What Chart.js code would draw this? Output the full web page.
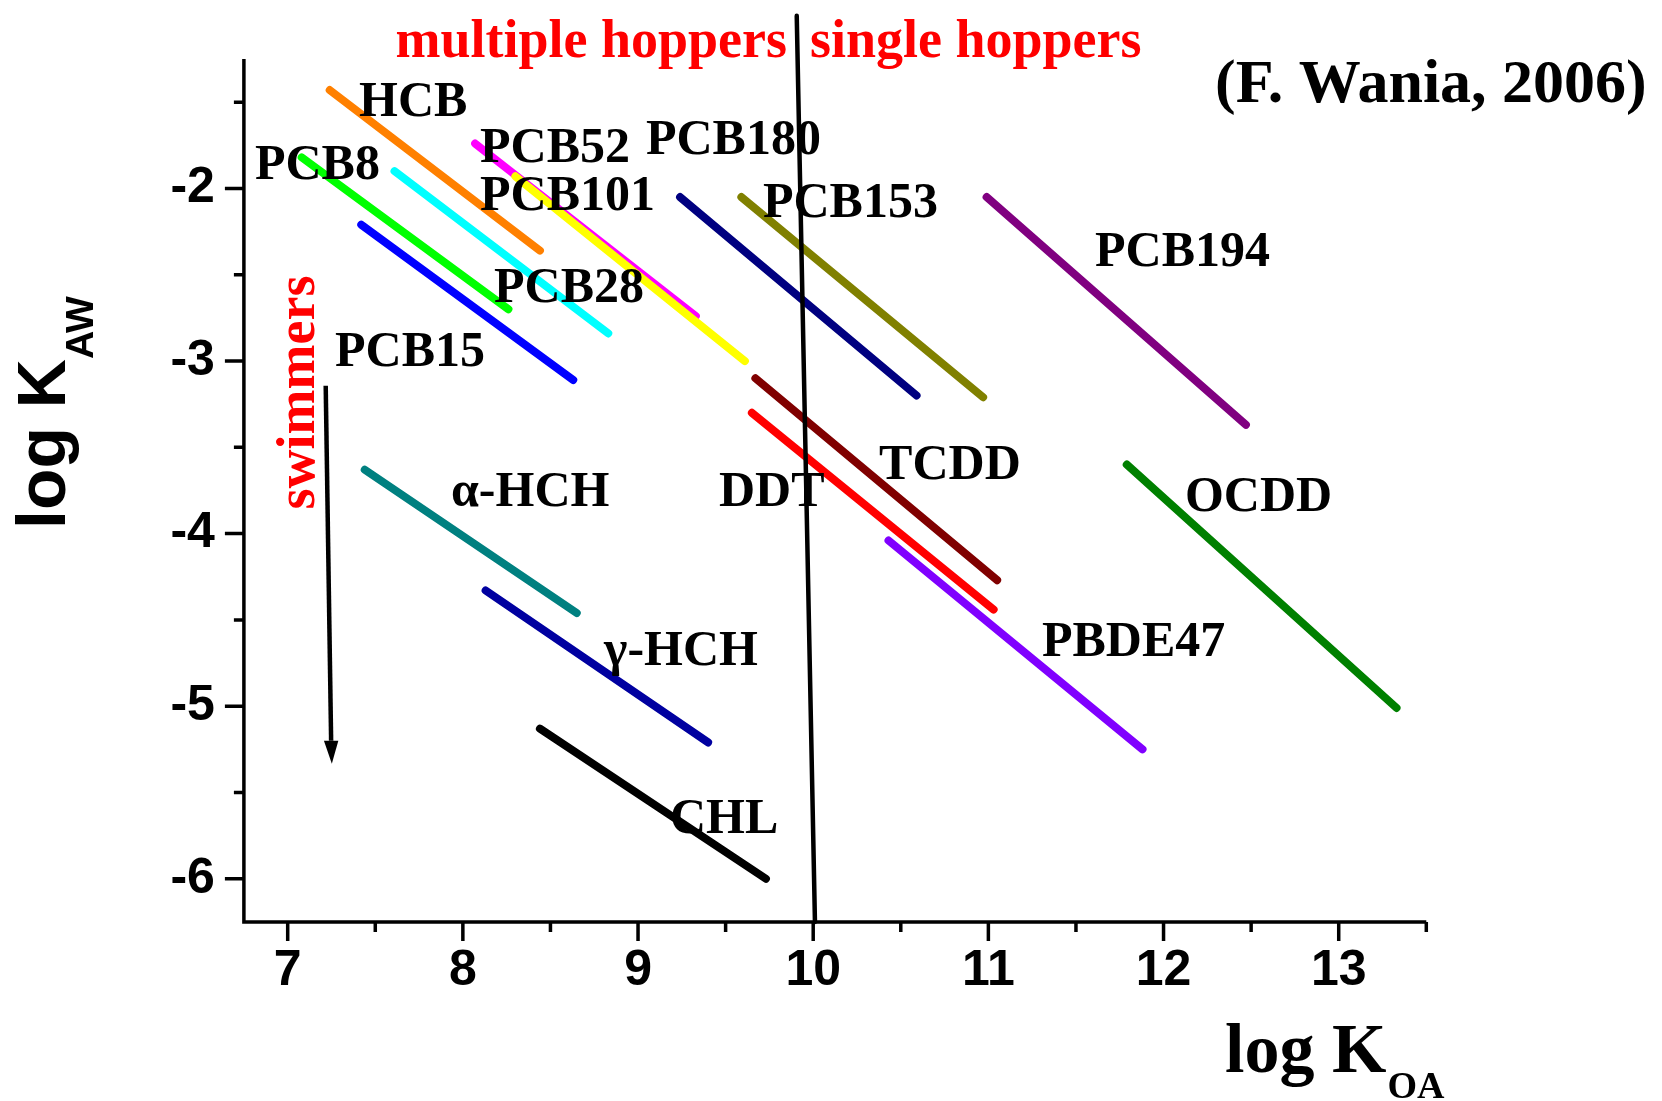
<!DOCTYPE html>
<html>
<head>
<meta charset="utf-8">
<script src="https://cdn.jsdelivr.net/npm/chart.js@4.4.1/dist/chart.umd.min.js"></script>
<style>
  html, body { margin: 0; padding: 0; background: #ffffff; }
  #wrap { width: 1662px; height: 1101px; }
  canvas { display: block; }
</style>
</head>
<body>
<div id="wrap"><canvas id="c" width="1662" height="1101"></canvas></div>
<script>
// ---- Data ----
const compounds = ['HCB','PCB8','PCB15','PCB28','PCB52','PCB101','PCB180','PCB153','PCB194',
                   'TCDD','DDT','PBDE47','OCDD','α-HCH','γ-HCH','CHL'];
const koaStart = [7.24, 7.08, 7.42, 7.61, 8.07, 8.30, 9.24, 9.59, 10.99, 9.67, 9.65, 10.43, 11.79, 7.44, 8.13, 8.44];
const kawStart = [-1.43, -1.82, -2.21, -1.90, -1.74, -1.93, -2.05, -2.05, -2.05, -3.10, -3.30, -4.04, -3.60, -3.63, -4.33, -5.13];
const koaEnd   = [8.44, 8.26, 8.63, 8.83, 9.33, 9.61, 10.59, 10.97, 12.47, 11.05, 11.03, 11.88, 13.33, 8.65, 9.40, 9.73];
const kawEnd   = [-2.36, -2.70, -3.11, -2.84, -2.74, -3.00, -3.20, -3.21, -3.37, -4.27, -4.44, -5.25, -5.01, -4.46, -5.21, -6.00];
const lineColors = ['#ff8000','#00ff00','#0000ff','#00ffff','#ff00ff','#ffff00','#000080','#808000','#800080',
                    '#800000','#ff0000','#8000ff','#008000','#008080','#0000a0','#000000'];

// hopper divider line and swimmers arrow
const dividerKoa = [9.906, 10.01];
const dividerKaw = [-1.00, -6.25];
const arrowKoa = [7.217, 7.248, 7.252];   // start, head base, tip
const arrowKaw = [-3.143, -5.20, -5.333];

// text labels placed in data coordinates
const labelText = ['HCB','PCB8','PCB52','PCB180','PCB101','PCB153','PCB194','PCB28','PCB15',
                   'α-HCH','DDT','TCDD','OCDD','PBDE47','γ-HCH','CHL'];
const labelKoa = [7.407, 6.813, 8.098, 9.045, 8.098, 9.713, 11.609, 8.178, 7.270,
                  7.932, 9.462, 10.376, 12.122, 11.306, 8.806, 9.182];
const labelKaw = [-1.583, -1.946, -1.848, -1.802, -2.125, -2.168, -2.448, -2.656, -3.031,
                  -3.842, -3.842, -3.683, -3.871, -4.710, -4.762, -5.737];

// axes
const xMin = 6.75, xMax = 13.5, yMin = -6.25, yMax = -1.25;
const xTickValues = [7, 8, 9, 10, 11, 12, 13];
const xTickLabels = ['7', '8', '9', '10', '11', '12', '13'];
const yTickValues = [-6, -5, -4, -3, -2];
const yTickLabels = ['-6', '-5', '-4', '-3', '-2'];
const minorStep = 0.5;

// ---- Build datasets ----
const datasets = compounds.map((name, i) => ({
  label: name,
  data: [{x: koaStart[i], y: kawStart[i]}, {x: koaEnd[i], y: kawEnd[i]}],
  showLine: true,
  borderColor: lineColors[i],
  backgroundColor: lineColors[i],
  borderWidth: 8,
  borderCapStyle: 'round',
  pointRadius: 0,
  pointHoverRadius: 0,
  fill: false,
  tension: 0,
  order: -i
}));
datasets.push({
  label: 'divider',
  data: [{x: dividerKoa[0], y: dividerKaw[0]}, {x: dividerKoa[1], y: dividerKaw[1]}],
  showLine: true, borderColor: '#000', borderWidth: 4.5, borderCapStyle: 'round',
  pointRadius: 0, fill: false, tension: 0, clip: false, order: -100
});
datasets.push({
  label: 'swimmers',
  data: [{x: arrowKoa[0], y: arrowKaw[0]}, {x: arrowKoa[1], y: arrowKaw[1]}],
  showLine: true, borderColor: '#000', borderWidth: 4.5, borderCapStyle: 'butt',
  pointRadius: 0, fill: false, tension: 0, order: -101
});

const SERIF = '"Liberation Serif", "Times New Roman", serif';
const SANS = '"Liberation Sans", Arial, sans-serif';

const decor = {
  id: 'decor',
  afterDatasetsDraw(chart) {
    const ctx = chart.ctx;
    const xs = chart.scales.x, ys = chart.scales.y;
    const a = chart.chartArea;
    ctx.save();
    // axis lines
    ctx.strokeStyle = '#000';
    ctx.lineWidth = 3.5;
    ctx.lineCap = 'butt';
    ctx.beginPath();
    ctx.moveTo(a.left, a.top);
    ctx.lineTo(a.left, a.bottom + 1.75);
    ctx.moveTo(a.left - 1.75, a.bottom);
    ctx.lineTo(a.right, a.bottom);
    ctx.stroke();
    // tick marks (major 19px, minor 10px, outward)
    ctx.beginPath();
    for (let v = Math.ceil(xMin / minorStep) * minorStep; v <= xMax + 1e-9; v += minorStep) {
      const px = xs.getPixelForValue(v);
      const len = xTickValues.includes(Math.round(v * 100) / 100) ? 19 : 10;
      ctx.moveTo(px, a.bottom);
      ctx.lineTo(px, a.bottom + len);
    }
    for (let v = Math.ceil(yMin / minorStep) * minorStep; v <= yMax + 1e-9; v += minorStep) {
      const py = ys.getPixelForValue(v);
      const len = yTickValues.includes(Math.round(v * 100) / 100) ? 19 : 10;
      ctx.moveTo(a.left, py);
      ctx.lineTo(a.left - len, py);
    }
    ctx.stroke();

    // arrow head
    const bx = xs.getPixelForValue(arrowKoa[1]), by = ys.getPixelForValue(arrowKaw[1]);
    const tx = xs.getPixelForValue(arrowKoa[2]), ty = ys.getPixelForValue(arrowKaw[2]);
    ctx.fillStyle = '#000';
    ctx.beginPath();
    ctx.moveTo(tx, ty);
    ctx.lineTo(bx - 7.2, by);
    ctx.lineTo(bx + 7.2, by);
    ctx.closePath();
    ctx.fill();

    // compound labels
    ctx.fillStyle = '#000';
    ctx.textBaseline = 'alphabetic';
    ctx.textAlign = 'left';
    ctx.font = 'bold 50px ' + SERIF;
    labelText.forEach((t, i) => {
      ctx.fillText(t, xs.getPixelForValue(labelKoa[i]), ys.getPixelForValue(labelKaw[i]));
    });

    // header texts
    ctx.fillStyle = '#ff0000';
    ctx.font = 'bold 54px ' + SERIF;
    ctx.textAlign = 'right';
    ctx.fillText('multiple hoppers', 787, 57);
    ctx.textAlign = 'left';
    ctx.fillText('single hoppers', 810, 57);

    ctx.fillStyle = '#000';
    ctx.font = 'bold 62px ' + SERIF;
    ctx.fillText('(F. Wania, 2006)', 1215, 102);

    // swimmers (rotated)
    ctx.save();
    ctx.translate(313.5, 509.5);
    ctx.rotate(-Math.PI / 2);
    ctx.fillStyle = '#ff0000';
    ctx.font = 'bold 54px ' + SERIF;
    ctx.fillText('swimmers', 0, 0);
    ctx.restore();

    // y axis title: log K_AW
    ctx.save();
    ctx.translate(65, 529);
    ctx.rotate(-Math.PI / 2);
    ctx.fillStyle = '#000';
    ctx.font = 'bold 68px ' + SANS;
    ctx.fillText('log K', 0, 0);
    const wy = ctx.measureText('log K').width;
    ctx.font = 'bold 39px ' + SANS;
    ctx.fillText('AW', wy, 28);
    ctx.restore();

    // x axis title: log K_OA
    ctx.fillStyle = '#000';
    ctx.font = 'bold 70px ' + SERIF;
    ctx.fillText('log K', 1225, 1072);
    const wx = ctx.measureText('log K').width;
    ctx.font = 'bold 38px ' + SERIF;
    ctx.fillText('OA', 1225 + wx + 1, 1098);
    ctx.restore();
  }
};

new Chart(document.getElementById('c').getContext('2d'), {
  type: 'scatter',
  data: { datasets },
  options: {
    responsive: false,
    animation: false,
    devicePixelRatio: 1,
    events: [],
    layout: { padding: { top: 55.3, right: 235.7, bottom: 59.1, left: 0 } },
    plugins: { legend: { display: false }, tooltip: { enabled: false }, title: { display: false } },
    scales: {
      x: {
        type: 'linear', position: 'bottom', min: xMin, max: xMax,
        grid: { display: false, drawTicks: false },
        border: { display: false },
        afterBuildTicks: s => { s.ticks = xTickValues.map(v => ({ value: v })); },
        afterFit: s => { s.height = 120; },
        ticks: {
          autoSkip: false, maxRotation: 0, minRotation: 0, padding: 19, color: '#000',
          font: { family: SANS, size: 50, weight: 'bold' },
          callback: v => { const k = xTickValues.indexOf(v); return k >= 0 ? xTickLabels[k] : ''; }
        }
      },
      y: {
        type: 'linear', position: 'left', min: yMin, max: yMax,
        grid: { display: false, drawTicks: false },
        border: { display: false },
        afterBuildTicks: s => { s.ticks = yTickValues.map(v => ({ value: v })); },
        afterFit: s => { s.width = 243.9; },
        ticks: {
          autoSkip: false, padding: 29, color: '#000',
          font: { family: SANS, size: 50, weight: 'bold' },
          callback: v => { const k = yTickValues.indexOf(v); return k >= 0 ? yTickLabels[k] : ''; }
        }
      }
    }
  },
  plugins: [decor]
});
</script>
</body>
</html>
